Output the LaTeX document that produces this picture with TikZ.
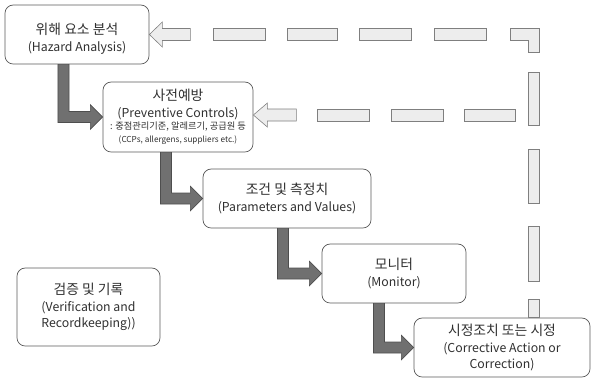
\documentclass[tikz,border=0pt]{standalone}
\usepackage{fontspec}
\setmainfont{Noto Sans CJK KR}
\usetikzlibrary{calc}

\definecolor{boxline}{HTML}{5A5A5A}
\definecolor{flowfill}{HTML}{707070}
\definecolor{flowline}{HTML}{4E4E4E}
\definecolor{backfill}{HTML}{EDEDED}
\definecolor{backline}{HTML}{7F7F7F}
\definecolor{txt}{HTML}{303030}

\tikzset{
  stage/.style={draw=boxline, line width=0.6pt, rounded corners=7pt, fill=white,
    align=center, text=txt, inner sep=0pt, font=\fontsize{10.5}{14}\selectfont},
  flow/.style={fill=flowfill, draw=flowline, line width=0.5pt},
  back/.style={fill=backfill, draw=backline, line width=0.5pt},
}
\newcommand\kr[1]{{\fontsize{11.8}{14}\selectfont #1}}

% elbow arrow: down from #1 (at x=#3), then right into #2
\newcommand\stepflow[3]{%
  \path [flow] let \p1=(#1.south), \p2=(#2.west), \p3=(#3,0) in
    (\x3-4.7pt,\y1) -- (\x3-4.7pt,\y2-4.7pt) -- (\x2-10.5pt,\y2-4.7pt)
    -- (\x2-10.5pt,\y2-10.5pt) -- (\x2,\y2) -- (\x2-10.5pt,\y2+10.5pt)
    -- (\x2-10.5pt,\y2+4.7pt) -- (\x3+4.7pt,\y2+4.7pt) -- (\x3+4.7pt,\y1) -- cycle;}

\begin{document}
\begin{tikzpicture}[x=0.03cm, y=-0.03cm]
\useasboundingbox (0,0) rectangle (592,378);

\node [stage, minimum width=4.32cm, minimum height=1.77cm] (haz) at (77,34.5)
  {\rule{0pt}{17pt}\kr{위해 요소 분석}\\(Hazard Analysis)};
\node [stage, minimum width=4.5cm, minimum height=2.1cm] (prev) at (178,117)
  {\kr{사전예방}\\(Preventive Controls)\\[-3pt]
   {\fontsize{7.9}{11}\selectfont : 중점관리기준, 알레르기, 공급원 등}\\[-3pt]
   {\fontsize{7}{11}\selectfont (CCPs, allergens, suppliers etc.)}};
\node [stage, minimum width=5.04cm, minimum height=1.77cm] (par) at (287,198.5)
  {\kr{조건 및 측정치}\\(Parameters and Values)};
\node [stage, minimum width=4.32cm, minimum height=1.77cm] (mon) at (394,273.5)
  {\kr{모니터}\\(Monitor)};
\node [stage, minimum width=5.28cm, minimum height=1.77cm] (corr) at (502,347.5)
  {\kr{시정조치 또는 시정}\\(Corrective Action or\\Correction)};
\node [stage, minimum width=4.29cm, minimum height=2.34cm] (ver) at (88.5,307)
  {\kr{검증 및 기록}\\(Verification and\\Recordkeeping))};

% main steps
\stepflow{haz}{prev}{63.5}
\stepflow{prev}{par}{166}
\stepflow{par}{mon}{283}
\stepflow{mon}{corr}{379}

% feedback (dashed, light)
\coordinate (fb2) at (0,115);
\draw [back] (haz.east) -- ++(13,-12.5) -- ++(0,6.5) -- ++(28,0) -- ++(0,12)
  -- ++(-28,0) -- ++(0,6.5) -- cycle;
\foreach \a/\b in {213/265, 287/337, 359/411, 434/486}
  \draw [back] (\a,28) rectangle (\b,40);
\draw [back] (510,28) -- (539,28) -- (539,52) -- (528,52) -- (528,40) -- (510,40) -- cycle;
\foreach \a/\b in {72/125, 149/203, 226/281, 299/317}
  \draw [back] (528,\a) rectangle (539,\b);
\draw [back] (prev.east |- fb2) -- ++(14,-12) -- ++(0,6) -- ++(29,0) -- ++(0,12)
  -- ++(-29,0) -- ++(0,6) -- cycle;
\foreach \a/\b in {317/369, 391/443, 464/515}
  \draw [back] (\a,109) rectangle (\b,121);

\end{tikzpicture}
\end{document}
